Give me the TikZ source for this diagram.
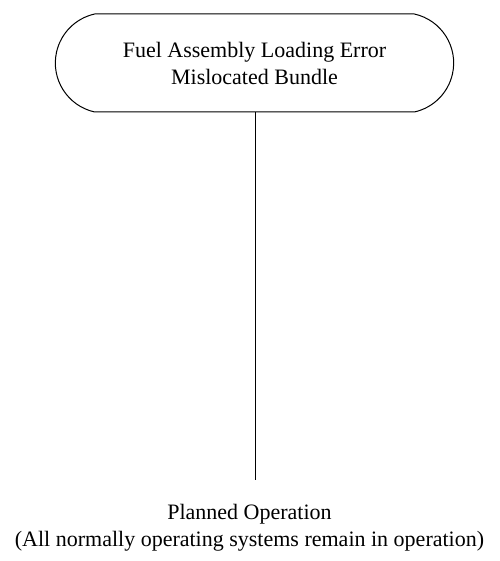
\documentclass[tikz,border=0pt]{standalone}
\usepackage{fontspec}
\setmainfont{Liberation Serif}
\usepackage{tikz}
\usetikzlibrary{shapes.misc}
\tikzstyle{event} = [draw=black, line width=1pt, rounded rectangle,
                     rounded rectangle arc length=155,
                     minimum width=405pt, minimum height=98pt,
                     align=center, font=\fontsize{22}{27}\selectfont]
\tikzstyle{outcome} = [align=center, font=\fontsize{22}{27}\selectfont]

\begin{document}
\begin{tikzpicture}[x=1pt,y=1pt]%
  \useasboundingbox (0,0) rectangle (499,-561);
  \node [event] (mislocated) at (254.5,-63)
    {Fuel Assembly Loading Error\\Mislocated Bundle};
  \node [outcome] (planned) at (249.5,-528)
    {Planned Operation\\(All normally operating systems remain in operation)};
  \coordinate (stem) at (255,-480);
  \draw [line width=1pt] (mislocated.south -| stem) -- (stem);
\end{tikzpicture}
\end{document}
